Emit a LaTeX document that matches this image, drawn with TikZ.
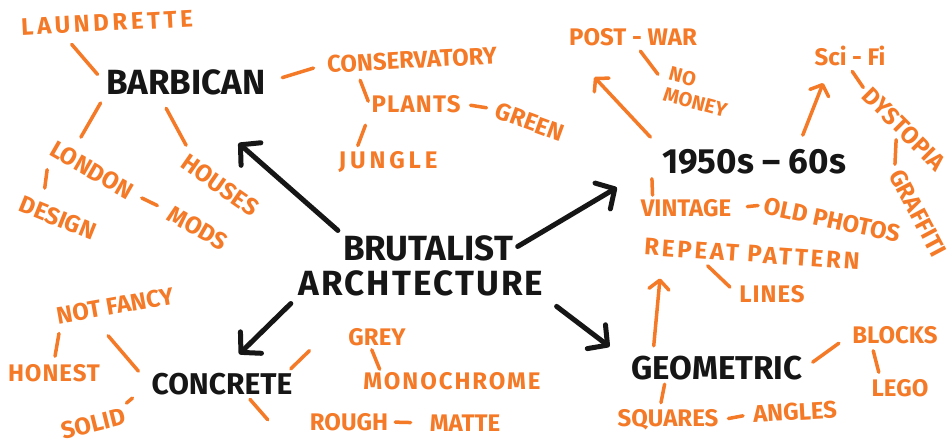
\documentclass[tikz,border=0pt]{standalone}
\usepackage{fontspec}
\setmainfont{Fira Sans}
\usetikzlibrary{arrows.meta, positioning, calc}
\definecolor{ink}{HTML}{161616}
\definecolor{marker}{HTML}{F47A28}
% wider letter spacing for a few hand-lettered words
\newcommand{\spread}[2]{{\addfontfeature{LetterSpace=#1}#2}}

\begin{document}
\begin{tikzpicture}[x=1pt, y=-1pt,
  topic/.style={font=\fontsize{35}{38}\selectfont\bfseries, text=ink, inner sep=2pt},
  idea/.style={font=\fontsize{24}{26}\selectfont\bfseries, text=marker, inner sep=2pt},
  branch/.style={draw=ink, line width=5pt, line cap=round,
    -{Straight Barb[length=14pt, width=30pt, round]}},
  twig/.style={draw=marker, line width=3.5pt, line cap=round},
  sprout/.style={twig, -{Straight Barb[length=9pt, width=20pt, round]}}]

  \fill[white] (0,0) rectangle (952,445);
  \useasboundingbox (0,0) rectangle (952,445);

  % centre and main topics
  \node[topic] (brutal) at (428,248) {BRUTALIST};
  \node[topic] (arch) at (421,283) {\spread{6}{ARCHTECTURE}};
  \node[topic] (barbican) at (186,82) {BARBICAN};
  \node[topic] (fifties) at (754,162) {1950s -- 60s};
  \node[topic, font=\fontsize{30}{32}\selectfont\bfseries] (concrete) at (222,384) {CONCRETE};
  \node[topic, font=\fontsize{33}{35}\selectfont\bfseries] (geometric) at (717,368) {GEOMETRIC};

  % barbican
  \node[idea, rotate=3] (laundrette) at (107,23) {\spread{15}{LAUNDRETTE}};
  \node[idea, rotate=3] (conservatory) at (412,60) {CONSERVATORY};
  \node[idea] (plants) at (416,104) {\spread{5}{PLANTS}};
  \node[idea, rotate=-20] (green) at (530,122) {GREEN};
  \node[idea] (jungle) at (388,162) {\spread{16}{JUNGLE}};
  \node[idea, rotate=-30] (london) at (92,170) {LONDON};
  \node[idea, rotate=-30] (mods) at (198,228) {MODS};
  \node[idea, rotate=-22] (design) at (58,218) {DESIGN};
  \node[idea, rotate=-35] (houses) at (220,185) {HOUSES};

  % 1950s - 60s
  \node[idea] (postwar) at (633,37) {POST - WAR};
  \node[idea, rotate=-15, align=left, font=\fontsize{20}{22}\selectfont\bfseries] (nomoney) at (698,92) {NO\\MONEY};
  \node[idea] (scifi) at (850,56) {Sci - Fi};
  \node[idea, rotate=-45] (dystopia) at (904,129) {DYSTOPIA};
  \node[idea, rotate=-62] (graffiti) at (918,213) {GRAFFITI};
  \node[idea] (vintage) at (686,208) {VINTAGE};
  \node[idea, rotate=-12] (oldphotos) at (832,220) {OLD PHOTOS};
  \node[idea, rotate=-4] (repeat) at (752,254) {\spread{12}{REPEAT PATTERN}};
  \node[idea] (lines) at (772,294) {\spread{4}{LINES}};

  % geometric
  \node[idea] (blocks) at (895,335) {BLOCKS};
  \node[idea] (lego) at (900,388) {LEGO};
  \node[idea] (squares) at (668,420) {SQUARES};
  \node[idea, rotate=3] (angles) at (795,412) {ANGLES};

  % concrete
  \node[idea, rotate=10] (notfancy) at (115,306) {NOT FANCY};
  \node[idea] (honest) at (54,373) {\spread{4}{HONEST}};
  \node[idea, rotate=14] (solid) at (93,424) {SOLID};
  \node[idea] (grey) at (377,337) {GREY};
  \node[idea] (monochrome) at (452,381) {\spread{8}{MONOCHROME}};
  \node[idea] (rough) at (349,422) {ROUGH};
  \node[idea] (matte) at (465,423) {MATTE};

  % big arrows out of the centre
  \draw[branch, shorten <=4pt, shorten >=70pt] (brutal.north west) -- (barbican.south);
  \draw[branch, shorten <=3pt, shorten >=50pt] (brutal.east) -- (fifties.west);
  \draw[branch, shorten <=8pt, shorten >=24pt] (arch.south west) -- (concrete.north);
  \draw[branch, shorten <=14pt, shorten >=25pt] (arch.south east) -- ([yshift=-8pt]geometric.north west);

  % small arrows
  \draw[sprout, shorten <=14pt, shorten >=40pt] (fifties.north west) -- (postwar.south west);
  \draw[sprout, shorten <=13pt, shorten >=16pt] ([xshift=44pt]fifties.north) -- ([xshift=-21pt]scifi.south);
  \draw[sprout, shorten <=8pt, shorten >=14pt] ([xshift=-64pt]geometric.north) -- ([xshift=-90pt]repeat.south);

  % barbican twigs
  \draw[twig, shorten <=10pt, shorten >=14pt] (barbican.west) -- ([xshift=-45pt]laundrette.south);
  \draw[twig, shorten <=15pt, shorten >=12pt] (barbican.east) -- (conservatory.west);
  \draw[twig, shorten <=10pt, shorten >=3pt] ([xshift=-56pt]conservatory.south) -- (plants.west);
  \draw[twig, shorten <=11pt, shorten >=4pt] (plants.south west) -- ([xshift=20pt]jungle.north west);
  \draw[twig, shorten <=8pt, shorten >=8pt] (plants.east) -- (green.west);
  \draw[twig, shorten <=7pt, shorten >=27pt] (barbican.south west) -- ([xshift=-30pt]london.north);
  \draw[twig, shorten <=13pt, shorten >=5pt] ([xshift=-26pt]barbican.south) -- (houses.north west);
  \draw[twig, shorten <=24pt, shorten >=20pt] (london.west) -- ([xshift=-20pt]design.north);
  \draw[twig, shorten <=9pt, shorten >=12pt] (london.east) -- (mods.west);

  % 1950s twigs
  \draw[twig, shorten <=4pt, shorten >=11pt] ([xshift=5pt]postwar.south) -- (nomoney.west);
  \draw[twig, shorten <=4pt, shorten >=3pt] (scifi.south) -- (dystopia.west);
  \draw[twig, shorten <=3pt, shorten >=5pt] (dystopia.south) -- (graffiti.west);
  \draw[twig, shorten <=2pt, shorten >=2pt] ([xshift=-8pt]fifties.south west) -- ([xshift=14pt]vintage.north west);
  \draw[twig, shorten <=14pt, shorten >=4pt] (vintage.east) -- (oldphotos.west);
  \draw[twig, shorten <=2pt, shorten >=10pt] ([xshift=-45pt]repeat.south) -- (lines.west);

  % geometric twigs
  \draw[twig, shorten <=10pt, shorten >=14pt] (geometric.east) -- (blocks.west);
  \draw[twig, shorten <=5pt, shorten >=5pt] ([xshift=-23pt]blocks.south) -- ([xshift=-20pt]lego.north);
  \draw[twig, shorten <=2pt, shorten >=5pt] ([xshift=-52pt]geometric.south) -- ([xshift=-8pt]squares.north);
  \draw[twig, shorten <=8pt, shorten >=8pt] (squares.east) -- (angles.west);

  % concrete twigs
  \draw[twig, shorten <=17pt, shorten >=25pt] (concrete.west) -- ([xshift=-25pt]notfancy.south);
  \draw[twig, shorten <=17pt, shorten >=6pt] ([xshift=-55pt]notfancy.south) -- (honest.north);
  \draw[twig, shorten <=22pt, shorten >=3pt] (concrete.west) -- (solid.north east);
  \draw[twig, shorten <=3pt, shorten >=4pt] ([xshift=-6pt]concrete.north east) -- ([xshift=-34pt]grey.south west);
  \draw[twig, shorten <=2pt, shorten >=1pt] ([xshift=-6pt]grey.south) -- ([xshift=-72pt]monochrome.north);
  \draw[twig, shorten <=3pt, shorten >=3pt] ([xshift=26pt]concrete.south) -- ([xshift=-38pt]rough.west);
  \draw[twig, shorten <=5pt, shorten >=17pt] (rough.east) -- (matte.west);
\end{tikzpicture}
\end{document}
